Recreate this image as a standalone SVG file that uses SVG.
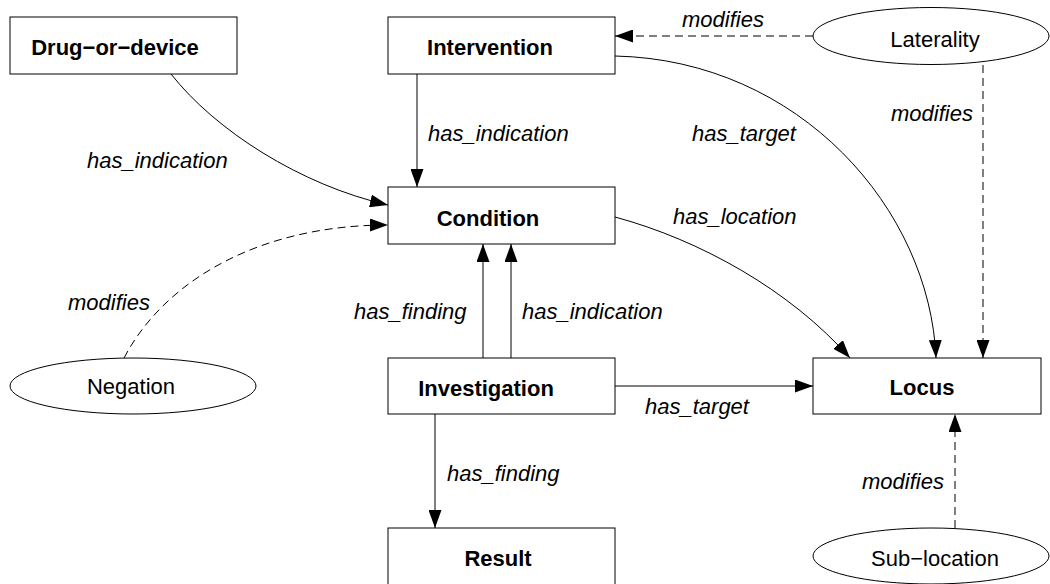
<svg xmlns="http://www.w3.org/2000/svg" width="1050" height="584" viewBox="0 0 1050 584">
<style>
  .box { fill: #fff; stroke: #000; stroke-width: 1; }
  .ell { fill: #fff; stroke: #000; stroke-width: 1; }
  .node-b { font-family: "Liberation Sans", Arial, sans-serif; font-size: 22px; font-weight: bold; text-anchor: middle; fill: #000; }
  .node-r { font-family: "Liberation Sans", Arial, sans-serif; font-size: 22px; text-anchor: middle; fill: #000; }
  .lbl { font-family: "Liberation Sans", Arial, sans-serif; font-size: 22px; font-style: italic; fill: #000; }
  .edge { fill: none; stroke: #000; stroke-width: 1; marker-end: url(#arr); }
  .dash { stroke-dasharray: 8 5; }
</style>
<defs>
  <marker id="arr" markerUnits="userSpaceOnUse" markerWidth="18" markerHeight="13" refX="18" refY="6.5" orient="auto">
    <path d="M0,0 L18,6.5 L0,13 z" fill="#000"/>
  </marker>
</defs>
<rect width="1050" height="584" fill="#fff"/>
<g id="connectors">
  <path class="edge" d="M171,74 C215,130 300,185 388,205"/>
  <path class="edge" d="M417,74 L417,187"/>
  <path class="edge dash" d="M813,36 L615,36"/>
  <path class="edge" d="M615,56 C800,60 930,210 936,358"/>
  <path class="edge dash" d="M983,65 L983,358"/>
  <path class="edge dash" d="M124,358 C165,280 260,225 388,225"/>
  <path class="edge" d="M615,217 C700,240 790,290 850,358"/>
  <path class="edge" d="M483,358 L483,244"/>
  <path class="edge" d="M511,358 L511,244"/>
  <path class="edge" d="M615,386 L813,386"/>
  <path class="edge" d="M435,414 L435,528"/>
  <path class="edge dash" d="M955,528 L955,414"/>
  <text class="lbl" x="87" y="168">has_indication</text>
  <text class="lbl" x="428" y="141">has_indication</text>
  <text class="lbl" x="682" y="27">modifies</text>
  <text class="lbl" x="692" y="141">has_target</text>
  <text class="lbl" x="891" y="121">modifies</text>
  <text class="lbl" x="673" y="224">has_location</text>
  <text class="lbl" x="68" y="310">modifies</text>
  <text class="lbl" x="354" y="319">has_finding</text>
  <text class="lbl" x="522" y="319">has_indication</text>
  <text class="lbl" x="645" y="414">has_target</text>
  <text class="lbl" x="447" y="481">has_finding</text>
  <text class="lbl" x="862" y="489">modifies</text>
</g>
<g id="drug-or-device">
  <rect class="box" x="10" y="17" width="227" height="57"/>
  <text class="node-b" x="115" y="55">Drug−or−device</text>
</g>
<g id="intervention">
  <rect class="box" x="388" y="17" width="227" height="57"/>
  <text class="node-b" x="490" y="55">Intervention</text>
</g>
<g id="laterality">
  <ellipse class="ell" cx="931" cy="36" rx="118" ry="28.5"/>
  <text class="node-r" x="935" y="47">Laterality</text>
</g>
<g id="condition">
  <rect class="box" x="388" y="187" width="227" height="57"/>
  <text class="node-b" x="488" y="226">Condition</text>
</g>
<g id="negation">
  <ellipse class="ell" cx="133" cy="386" rx="123" ry="28"/>
  <text class="node-r" x="131" y="394">Negation</text>
</g>
<g id="investigation">
  <rect class="box" x="388" y="358" width="227" height="56"/>
  <text class="node-b" x="486" y="396">Investigation</text>
</g>
<g id="locus">
  <rect class="box" x="813" y="358" width="228" height="56"/>
  <text class="node-b" x="922" y="395">Locus</text>
</g>
<g id="result">
  <rect class="box" x="388" y="528" width="227" height="60"/>
  <text class="node-b" x="498" y="566">Result</text>
</g>
<g id="sub-location">
  <ellipse class="ell" cx="931" cy="556" rx="118" ry="28"/>
  <text class="node-r" x="935" y="566">Sub−location</text>
</g>
</svg>
